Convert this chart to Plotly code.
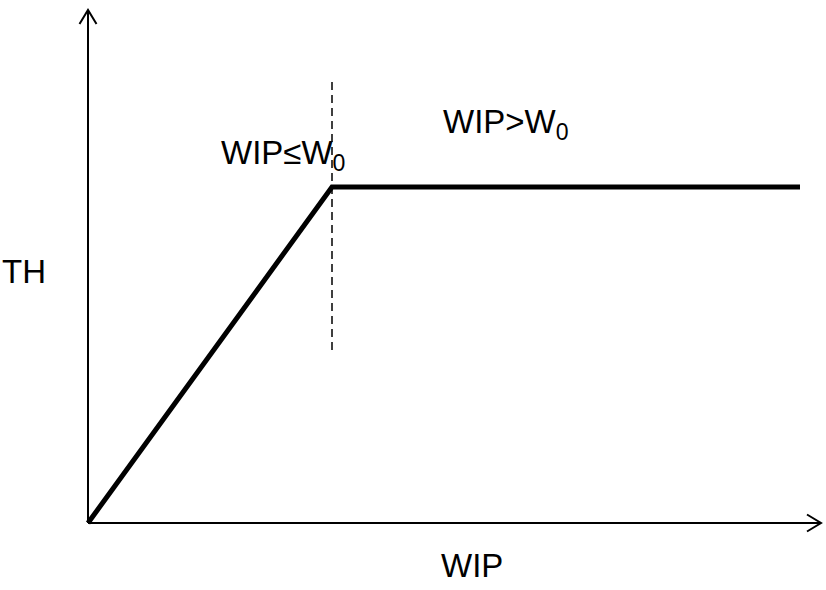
import plotly.graph_objects as go

# Conceptual data (arbitrary units)
wip = [0.0, 2.44, 7.12]          # WIP values
th = [0.0, 3.36, 3.36]           # throughput TH
w0 = 2.44                        # critical WIP W0
dash_y = [1.73, 4.43]            # extent of the W0 marker line
x_axis_end = 7.33
y_axis_end = 5.13

labels = {"x": "WIP", "y": "TH", "left": "WIP≤W<sub>0</sub>", "right": "WIP>W<sub>0</sub>"}

FONT = "Liberation Sans, Arial, sans-serif"

fig = go.Figure()

# Axes drawn as lines
fig.add_trace(go.Scatter(x=[0, x_axis_end], y=[0, 0], mode="lines",
                         line=dict(color="black", width=2), hoverinfo="skip"))
fig.add_trace(go.Scatter(x=[0, 0], y=[0, y_axis_end], mode="lines",
                         line=dict(color="black", width=2), hoverinfo="skip"))
# Arrow heads (open chevrons)
ah_len, ah_half = 0.14, 0.085
fig.add_trace(go.Scatter(x=[x_axis_end - ah_len, x_axis_end, x_axis_end - ah_len],
                         y=[ah_half, 0, -ah_half], mode="lines",
                         line=dict(color="black", width=2), hoverinfo="skip"))
fig.add_trace(go.Scatter(x=[-ah_half, 0, ah_half],
                         y=[y_axis_end - ah_len, y_axis_end, y_axis_end - ah_len], mode="lines",
                         line=dict(color="black", width=2), hoverinfo="skip"))

# Dashed W0 marker
fig.add_trace(go.Scatter(x=[w0, w0], y=dash_y, mode="lines",
                         line=dict(color="black", width=1.5, dash="8px,5px"), hoverinfo="skip"))

# TH vs WIP curve
fig.add_trace(go.Scatter(x=wip, y=th, mode="lines",
                         line=dict(color="black", width=5), hoverinfo="skip"))

font = dict(family=FONT, size=33, color="black")
fig.add_annotation(x=3.84, y=-0.42, text=labels["x"], showarrow=False, font=font,
                   xanchor="center", yanchor="middle")
fig.add_annotation(x=-0.64, y=2.52, text=labels["y"], showarrow=False, font=font,
                   xanchor="center", yanchor="middle")
fig.add_annotation(x=1.31, y=3.68, text=labels["left"], showarrow=False, font=font,
                   xanchor="left", yanchor="middle")
fig.add_annotation(x=3.53, y=3.99, text=labels["right"], showarrow=False, font=font,
                   xanchor="left", yanchor="middle")

fig.update_layout(
    width=826, height=590,
    margin=dict(l=0, r=0, t=0, b=0),
    paper_bgcolor="white", plot_bgcolor="white",
    showlegend=False,
    xaxis=dict(range=[-0.88, 7.38], visible=False, fixedrange=True),
    yaxis=dict(range=[-0.67, 5.23], visible=False, fixedrange=True),
)

fig.write_html("out.html", config={"displayModeBar": False},
               post_script="document.body.style.margin='0px';")
